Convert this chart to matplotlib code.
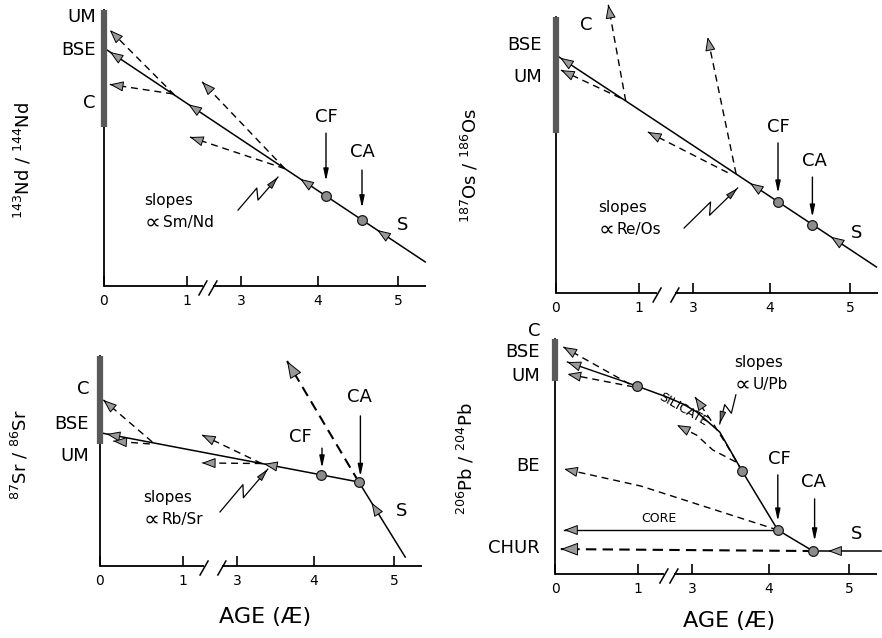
import numpy as np
import matplotlib
matplotlib.use("Agg")
import matplotlib.pyplot as plt

# Eje de edades con corte entre 1 y 3 Ga (posicion de cada marca)
age_knots = [-1, 0, 1, 3, 4, 5, 7]
pos_knots = [-83, 0, 83, 137, 214, 294, 454]
ticks = [0, 1, 3, 4, 5]

# --- 143Nd/144Nd ---
nd_age = [0.0, 1.0, 3.57, 5.34]
nd_val = [8.50, 6.52, 4.19, 0.86]
nd_um_age, nd_um_val = [0.85, 0.07], [6.82, 9.14]
nd_c_age, nd_c_val = [0.83, 0.07], [6.86, 7.20]
nd_d1_age, nd_d1_val = [3.57, 1.56], [4.19, 7.29]
nd_d2_age, nd_d2_val = [3.57, 1.11], [4.19, 5.32]
nd_heads = [0.07, 1.05, 3.77, 4.74]
nd_bar = [5.68, 9.86]
nd_left_labels = ["UM", "BSE", "C"]
nd_left_y = [9.6, 8.43, 6.54]

# --- 187Os/186Os ---
os_age = [0.0, 0.84, 3.56, 5.33]
os_val = [8.50, 6.86, 4.25, 0.93]
os_u1_age, os_u1_val = [0.84, 0.63], [6.86, 10.29]
os_u2_age, os_u2_val = [3.56, 3.19], [4.25, 9.14]
os_um_age, os_um_val = [0.78, 0.06], [6.96, 7.96]
os_d_age, os_d_val = [3.45, 1.33], [4.30, 5.75]
os_heads = [0.05, 3.74, 4.76]
os_bar = [5.71, 9.86]
os_left_labels = ["BSE", "UM"]
os_left_y = [8.86, 7.71]

# --- 87Sr/86Sr ---
sr_age = [0.0, 4.56, 5.14]
sr_val = [4.76, 3.00, 0.32]
sr_c_age, sr_c_val = [0.63, 0.04], [4.43, 5.93]
sr_b_age, sr_b_val = [0.60, 0.16], [4.36, 4.46]
sr_d1_age, sr_d1_val = [3.32, 1.70], [3.66, 4.68]
sr_d2_age, sr_d2_val = [3.32, 1.70], [3.66, 3.68]
sr_big_age, sr_big_val = [4.56, 3.65], [3.00, 7.32]
sr_heads = [0.08, 3.35, 4.72]
sr_bar = [4.36, 7.50]
sr_left_labels = ["C", "BSE", "UM"]
sr_left_y = [6.32, 5.07, 3.93]

# --- 206Pb/204Pb ---
pb_sil_age = [0.99, 2.07, 2.67, 3.06, 3.36, 3.65, 4.11, 4.55]
pb_sil_val = [6.71, 6.32, 6.07, 5.79, 5.07, 3.68, 1.57, 0.82]
pb_dots = [0.99, 3.65, 4.11, 4.55]
pb_bse_age, pb_bse_val = [0.99, 0.15], [6.71, 7.57]
pb_c_age, pb_c_val = [0.90, 0.10], [6.78, 8.11]
pb_um_age, pb_um_val = [0.95, 0.15], [6.68, 7.14]
pb_ua_age, pb_ua_val = [3.65, 3.45, 3.27, 3.04], [3.68, 4.61, 5.39, 6.32]
pb_ub_age, pb_ub_val = [3.57, 3.27, 3.06, 2.44], [4.00, 4.43, 4.96, 5.32]
pb_be_age, pb_be_val = [4.11, 1.11, 0.11], [1.57, 3.14, 3.75]
pb_core_age, pb_core_val = [4.11, 0.11], [1.57, 1.57]
pb_chur_age, pb_chur_val = [4.55, 0.07], [0.82, 0.89]
pb_s_age, pb_s_val = [5.40, 4.55], [0.82, 0.82]
pb_bar = [6.89, 8.39]
pb_left_labels = ["C", "BSE", "UM", "BE", "CHUR"]
pb_left_y = [8.68, 7.93, 7.07, 3.86, 0.93]

W, H = 882, 638
DASH = (0, (5, 3.5))


def fwd(a):
    return np.interp(a, age_knots, pos_knots)


def inv(p):
    return np.interp(p, pos_knots, age_knots)


def px(ax, x, y):
    return ax.transData.transform((x, y))


def data(ax, p):
    return ax.transData.inverted().transform(p)


def on_line(a, ages, vals):
    return float(np.interp(fwd(a), fwd(np.array(ages)), vals))


def head(ax, tip, frm, size=10, fc="0.6", hw=0.32):
    hl = 0.85 * size * 100 / 72
    t = px(ax, *tip)
    f = px(ax, *frm)
    d = (t - f) / np.hypot(*(t - f))
    back = data(ax, t - d * hl)
    ax.annotate("", xy=tip, xytext=back, annotation_clip=False,
                arrowprops=dict(arrowstyle=f"-|>,head_length=0.85,head_width={hw}",
                                mutation_scale=size, lw=0.7, fc=fc, ec="black",
                                shrinkA=0, shrinkB=0))


def line(ax, ages, vals, dashed=False, lw=1.0, tip=True, size=10):
    ls = (0, (5, 3)) if (dashed and lw > 1.2) else (DASH if dashed else "-")
    ax.plot(ages, vals, color="black", lw=lw, ls=ls, clip_on=False, zorder=3)
    if tip:
        head(ax, (ages[-1], vals[-1]), (ages[-2], vals[-2]), size=size)


def pointer(ax, x, y0, y1):
    ax.annotate("", xy=(x, y1), xytext=(x, y0),
                arrowprops=dict(arrowstyle="-|>,head_length=0.7,head_width=0.15",
                                mutation_scale=10, lw=1.0, fc="black", ec="black",
                                shrinkA=0, shrinkB=0))


def squiggle(ax, start, end):
    s = px(ax, *start)
    e = px(ax, *end)
    v = e - s
    L = np.hypot(*v)
    u = v / L
    n = np.array([-u[1], u[0]])
    a = s + 0.55 * L * u + 5 * n
    b = s + 0.42 * L * u - 5 * n
    pts = np.array([data(ax, p) for p in (s, a, b, e)])
    ax.plot(pts[:, 0], pts[:, 1], color="black", lw=0.9, clip_on=False)
    head(ax, end, tuple(pts[2]), size=9, fc="0.4", hw=0.22)


def slopes(ax, x, y, ratio):
    # "slopes" y debajo el simbolo de proporcionalidad y el cociente
    ax.text(x, y, "slopes", ha="left", va="center", fontsize=11)
    y2 = y - 0.8
    ax.text(x, y2, "∝", ha="left", va="center", fontsize=16)
    ax.annotate(ratio, xy=(x, y2), xytext=(13, 0), textcoords="offset points",
                ha="left", va="center", fontsize=11)


def panel(ox, oy, top, bar, gap):
    width = fwd(5.35) - fwd(0)
    ax = fig.add_axes([ox / W, 1 - oy / H, width / W, (oy - top) / H])
    ax.set_xscale("function", functions=(fwd, inv))
    ax.set_xlim(0, 5.35)
    ax.set_ylim(0, (oy - top) / 28)
    for s in ["top", "right", "bottom"]:
        ax.spines[s].set_visible(False)
    ax.spines["left"].set_linewidth(1.3)
    ax.spines["left"].set_bounds(0, bar[1])
    ax.set_xticks(ticks)
    ax.set_xticklabels([str(t) for t in ticks])
    ax.tick_params(axis="x", direction="in", length=7, width=1.2, pad=6, labelsize=10)
    ax.tick_params(axis="y", left=False, labelleft=False)
    ax.patch.set_visible(False)
    # eje x cortado
    ax.plot([0, gap[0]], [0, 0], color="black", lw=1.3, clip_on=False, solid_capstyle="butt")
    ax.plot([gap[1], 5.35], [0, 0], color="black", lw=1.3, clip_on=False, solid_capstyle="butt")
    for g in gap:
        c = px(ax, g, 0)
        p0 = data(ax, c + np.array([-4, -9]))
        p1 = data(ax, c + np.array([4, 5]))
        ax.plot([p0[0], p1[0]], [p0[1], p1[1]], color="black", lw=1.1, clip_on=False)
    # barra gris sobre el eje y
    ax.plot([0, 0], bar, color="0.35", lw=4.5, solid_capstyle="butt", clip_on=False, zorder=4)
    return ax


def dots(ax, ages, vals):
    ax.plot(ages, vals, "o", ms=7, mfc="0.55", mec="0.1", mew=0.9, clip_on=False, zorder=5)


def left_labels(ax, names, ys, x):
    for name, y in zip(names, ys):
        ax.text(x, y, name, ha="right", va="center", fontsize=13)


def main_heads(ax, ages, vals, where):
    for a in where:
        head(ax, (a, on_line(a, ages, vals)), (a + 0.3, on_line(a + 0.3, ages, vals)))


fig = plt.figure(figsize=(8.82, 6.38), dpi=100)

# Panel Nd
ax = panel(104, 286, 5, nd_bar, (1.59, 1.96))
line(ax, nd_age, nd_val, tip=False, lw=1.1)
main_heads(ax, nd_age, nd_val, nd_heads)
line(ax, nd_um_age, nd_um_val, dashed=True)
line(ax, nd_c_age, nd_c_val, dashed=True)
line(ax, nd_d1_age, nd_d1_val, dashed=True)
line(ax, nd_d2_age, nd_d2_val, dashed=True)
dots(ax, [4.1, 4.55], [on_line(4.1, nd_age, nd_val), on_line(4.55, nd_age, nd_val)])
left_labels(ax, nd_left_labels, nd_left_y, -0.1)
ax.text(4.1, 6.04, "CF", ha="center", va="center", fontsize=13)
pointer(ax, 4.1, 5.46, 3.75)
ax.text(4.56, 4.79, "CA", ha="center", va="center", fontsize=13)
pointer(ax, 4.55, 4.14, 2.79)
ax.text(5.06, 2.18, "S", ha="center", va="center", fontsize=13)
slopes(ax, 0.49, 3.07, "Sm/Nd")
squiggle(ax, (2.89, 2.71), (3.48, 3.89))

# Panel Os
ax = panel(556, 293, 2, os_bar, (1.67, 2.33))
line(ax, os_age, os_val, tip=False, lw=1.1)
main_heads(ax, os_age, os_val, os_heads)
line(ax, os_u1_age, os_u1_val, dashed=True)
line(ax, os_u2_age, os_u2_val, dashed=True)
line(ax, os_um_age, os_um_val, dashed=True)
line(ax, os_d_age, os_d_val, dashed=True)
dots(ax, [4.1, 4.53], [on_line(4.1, os_age, os_val), on_line(4.53, os_age, os_val)])
left_labels(ax, os_left_labels, os_left_y, -0.17)
ax.text(0.36, 9.57, "C", ha="center", va="center", fontsize=13)
ax.text(4.11, 5.93, "CF", ha="center", va="center", fontsize=13)
pointer(ax, 4.1, 5.36, 3.57)
ax.text(4.55, 4.71, "CA", ha="center", va="center", fontsize=13)
pointer(ax, 4.53, 4.14, 2.71)
ax.text(5.08, 2.14, "S", ha="center", va="center", fontsize=13)
slopes(ax, 0.51, 3.07, "Re/Os")
squiggle(ax, (2.67, 2.32), (3.58, 3.75))

# Panel Sr
ax = panel(100, 566, 340, sr_bar, (1.78, 2.44))
line(ax, sr_age, sr_val, tip=False, lw=1.1)
main_heads(ax, sr_age, sr_val, sr_heads)
line(ax, sr_c_age, sr_c_val, dashed=True)
line(ax, sr_b_age, sr_b_val, dashed=True)
line(ax, sr_d1_age, sr_d1_val, dashed=True)
line(ax, sr_d2_age, sr_d2_val, dashed=True)
line(ax, sr_big_age, sr_big_val, dashed=True, lw=1.5, size=13)
dots(ax, [4.09, 4.56], [on_line(4.09, sr_age, sr_val), on_line(4.56, sr_age, sr_val)])
left_labels(ax, sr_left_labels, sr_left_y, -0.13)
ax.text(3.82, 4.61, "CF", ha="center", va="center", fontsize=13)
pointer(ax, 4.1, 4.21, 3.5)
ax.text(4.57, 6.04, "CA", ha="center", va="center", fontsize=13)
pointer(ax, 4.58, 5.36, 3.2)
ax.text(5.1, 1.96, "S", ha="center", va="center", fontsize=13)
slopes(ax, 0.52, 2.46, "Rb/Sr")
squiggle(ax, (2.37, 1.93), (3.4, 3.46))

# Panel Pb
ax = panel(555, 574, 330, pb_bar, (1.96, 2.33))
line(ax, pb_sil_age, pb_sil_val, tip=False, lw=1.1)
line(ax, pb_bse_age, pb_bse_val)
line(ax, pb_c_age, pb_c_val, dashed=True)
line(ax, pb_um_age, pb_um_val, dashed=True)
line(ax, pb_ua_age, pb_ua_val, dashed=True)
line(ax, pb_ub_age, pb_ub_val, dashed=True)
line(ax, pb_be_age, pb_be_val, dashed=True)
line(ax, pb_core_age, pb_core_val)
line(ax, pb_chur_age, pb_chur_val, dashed=True, lw=1.5, size=13)
line(ax, pb_s_age, pb_s_val, tip=False, lw=1.1)
head(ax, (4.74, 0.82), (5.0, 0.82))
dots(ax, pb_dots, [on_line(a, pb_sil_age, pb_sil_val) for a in pb_dots])
left_labels(ax, pb_left_labels, pb_left_y, -0.18)
ax.text(4.13, 4.11, "CF", ha="center", va="center", fontsize=13)
pointer(ax, 4.11, 3.54, 1.89)
ax.text(4.56, 3.29, "CA", ha="center", va="center", fontsize=13)
pointer(ax, 4.57, 2.68, 1.18)
ax.text(5.09, 1.43, "S", ha="center", va="center", fontsize=13)
slopes(ax, 3.55, 7.57, "U/Pb")
squiggle(ax, (3.57, 6.4), (3.36, 5.36))
ax.text(2.67, 5.86, "SILICATE", ha="center", va="center", fontsize=9,
        rotation=-30, rotation_mode="anchor")
ax.text(1.78, 2.0, "CORE", ha="center", va="center", fontsize=9)

# Etiquetas de ejes
fig.text(23 / W, 1 - 160 / H, r"$^{143}$Nd / $^{144}$Nd", rotation=90, ha="center", va="center", fontsize=13)
fig.text(470 / W, 1 - 165 / H, r"$^{187}$Os / $^{186}$Os", rotation=90, ha="center", va="center", fontsize=13)
fig.text(20 / W, 1 - 455 / H, r"$^{87}$Sr / $^{86}$Sr", rotation=90, ha="center", va="center", fontsize=13)
fig.text(466 / W, 1 - 459 / H, r"$^{206}$Pb / $^{204}$Pb", rotation=90, ha="center", va="center", fontsize=13)
fig.text(265 / W, 1 - 617 / H, "AGE (Æ)", ha="center", va="center", fontsize=16)
fig.text(729 / W, 1 - 621 / H, "AGE (Æ)", ha="center", va="center", fontsize=16)

fig.savefig("out.png", dpi=100)
